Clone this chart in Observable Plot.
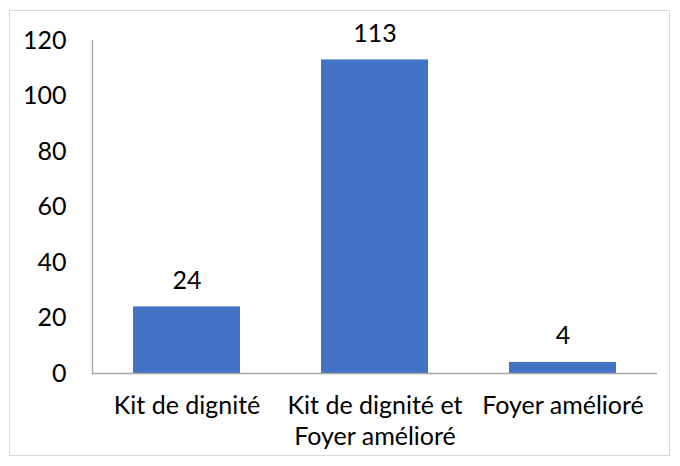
<!DOCTYPE html>
<html>
<head>
<meta charset="utf-8">
<script src="https://cdn.jsdelivr.net/npm/d3@7"></script>
<script src="https://cdn.jsdelivr.net/npm/@observablehq/plot@0.6"></script>
<style>
  html, body { margin: 0; padding: 0; background: #fff; }
  #wrap { position: relative; width: 680px; height: 466px; }
  #border { position: absolute; left: 9px; top: 10px; width: 661px; height: 446px; border: 1px solid #d9d9d9; box-sizing: border-box; pointer-events: none; }
  #chart { position: absolute; left: 0; top: 0; }
</style>
</head>
<body>
<div id="wrap"><div id="chart"></div><div id="border"></div></div>
<script>
const categories = ["Kit de dignité", "Kit de dignité et\nFoyer amélioré", "Foyer amélioré"];
const values = [24, 113, 4];
const yTicks = [0, 20, 40, 60, 80, 100, 120];

const data = categories.map((c, i) => ({category: c, value: values[i]}));
const font = "Lato, 'Open Sans', sans-serif";

const chart = Plot.plot({
  width: 680,
  height: 466,
  marginLeft: 92,
  marginRight: 23,
  marginTop: 40,
  marginBottom: 93,
  style: {fontFamily: font, fontSize: "25px", color: "#000", background: "transparent"},
  x: {domain: categories, paddingInner: 0.43, paddingOuter: 0.215, label: null},
  y: {domain: [0, 120], ticks: yTicks, label: null},
  marks: [
    Plot.barY(data, {x: "category", y: "value", fill: "#4472C4"}),
    Plot.ruleY([0], {stroke: "#a6a6a6", strokeWidth: 1.3}),
    Plot.frame({anchor: "left", stroke: "#a6a6a6", strokeWidth: 1.3}),
    Plot.axisY({ticks: yTicks, tickSize: 0, tickPadding: 26, label: null, fontSize: 25, fill: "#000"}),
    Plot.axisX({tickSize: 0, tickPadding: 19, label: null, fontSize: 25, fill: "#000", lineHeight: 1.22, textOverflow: null}),
    Plot.text(data, {x: "category", y: "value", text: d => String(d.value), dy: -26, fontSize: 25, fill: "#000", lineAnchor: "middle"})
  ]
});
document.getElementById("chart").appendChild(chart);
</script>
</body>
</html>
